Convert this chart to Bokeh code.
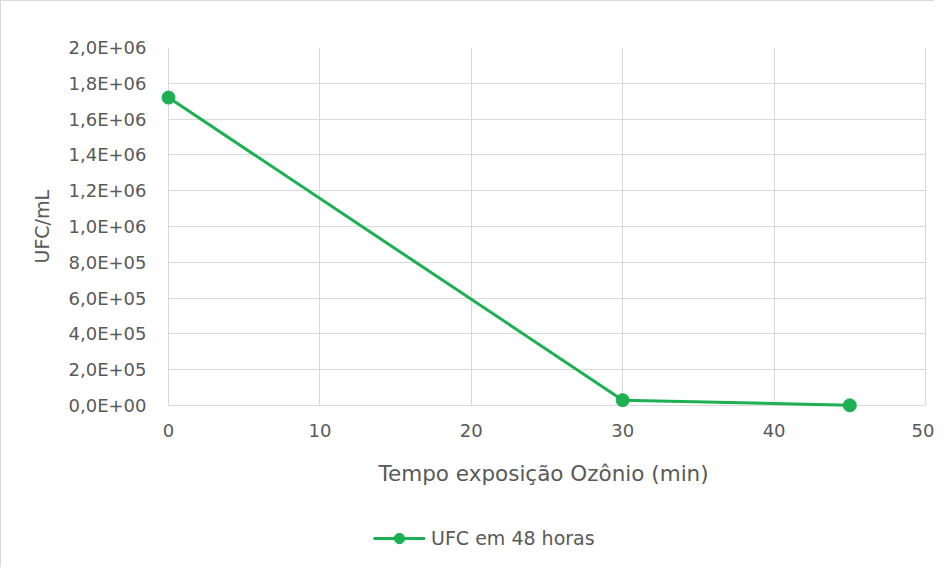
from bokeh.plotting import figure
from bokeh.models import FixedTicker, CustomJSTickFormatter, Legend, LegendItem, Title
from bokeh.embed import file_html
from bokeh.resources import INLINE

tempo = [0, 30, 45]
ufc = [1.72e6, 3.0e4, 1.0e3]
x_ticks = [0, 10, 20, 30, 40, 50]
y_ticks = [0, 2e5, 4e5, 6e5, 8e5, 1e6, 1.2e6, 1.4e6, 1.6e6, 1.8e6, 2e6]
x_label = "Tempo  exposição Ozônio (min)"
y_label = "UFC/mL"
series_name = "UFC em 48 horas"

GREEN = "#1db052"
GRAY_TXT = "#595959"
GRID = "#d9d9d9"
FONT = "DejaVu Sans"

W, H = 934, 567
LEFT, RIGHT, TOP = 157, 0, 46
X0_PX, X50_PX = 167, 924           # pixel columns of x = 0 and x = 50
ZERO_PX = 404                      # pixel row of y = 0
x_min_v, x_max_v = 0, 50
y_max = 2e6
px_per_x = (X50_PX - X0_PX) / (x_max_v - x_min_v)
x_start = x_min_v - (X0_PX - LEFT) / px_per_x
x_end = x_max_v + (W - RIGHT - X50_PX) / px_per_x
y_min = -y_max * (H - ZERO_PX) / (ZERO_PX - TOP)

p = figure(width=W, height=H, output_backend="svg", toolbar_location=None,
           x_range=(x_start, x_end), y_range=(y_min, y_max),
           min_border_left=LEFT, min_border_right=RIGHT, min_border_top=TOP, min_border_bottom=0)
p.outline_line_color = None
p.background_fill_color = "white"
p.border_fill_color = "white"

r_line = p.line(tempo, ufc, line_color=GREEN, line_width=3)
r_pts = p.scatter(tempo, ufc, size=13, fill_color=GREEN, line_color=GREEN)

for ax in (p.xaxis[0], p.yaxis[0]):
    ax.axis_line_color = None
    ax.major_tick_line_color = None
    ax.minor_tick_line_color = None
    ax.major_label_text_font = FONT
    ax.major_label_text_font_size = "18px"
    ax.major_label_text_color = GRAY_TXT
    ax.axis_label_text_font = FONT
    ax.axis_label_text_font_size = "21.5px"
    ax.axis_label_text_font_style = "normal"
    ax.axis_label_text_color = GRAY_TXT

p.xaxis.fixed_location = 0
p.xaxis.ticker = FixedTicker(ticks=x_ticks)
p.yaxis.ticker = FixedTicker(ticks=y_ticks)
p.yaxis.formatter = CustomJSTickFormatter(code="""
    var s = tick.toExponential(1).replace('.', ',');
    return s.replace(/e([+-])(\\d)$/, 'E$10$2').replace(/e([+-])(\\d\\d)$/, 'E$1$2');
""")
p.xaxis.axis_label = x_label
p.xaxis.major_label_standoff = 12
p.xaxis.axis_label_standoff = 21
p.yaxis.major_label_standoff = 6

ytitle = Title(text=y_label, align="left", offset=305, standoff=26,
               text_font=FONT, text_font_size="19px", text_font_style="normal",
               text_color=GRAY_TXT)
p.add_layout(ytitle, "left")

p.xgrid.ticker = FixedTicker(ticks=x_ticks)
p.ygrid.ticker = FixedTicker(ticks=y_ticks)
p.xgrid.cross_bounds = (0, y_max)
p.ygrid.cross_bounds = (x_min_v, x_max_v)
p.xgrid.grid_line_color = GRID
p.ygrid.grid_line_color = GRID

legend = Legend(items=[LegendItem(label=series_name, renderers=[r_line, r_pts])],
                location=(215, 17), orientation="horizontal",
                label_text_font=FONT, label_text_font_size="19px", label_text_color=GRAY_TXT,
                border_line_color=None, background_fill_alpha=0,
                glyph_width=52, glyph_height=26, label_standoff=6, padding=5, spacing=0)
p.add_layout(legend, "center")

p.styles = {"border-left": "1px solid #d9d9d9", "border-top": "1px solid #d9d9d9"}

open("out.html", "w").write(file_html(p, INLINE))
